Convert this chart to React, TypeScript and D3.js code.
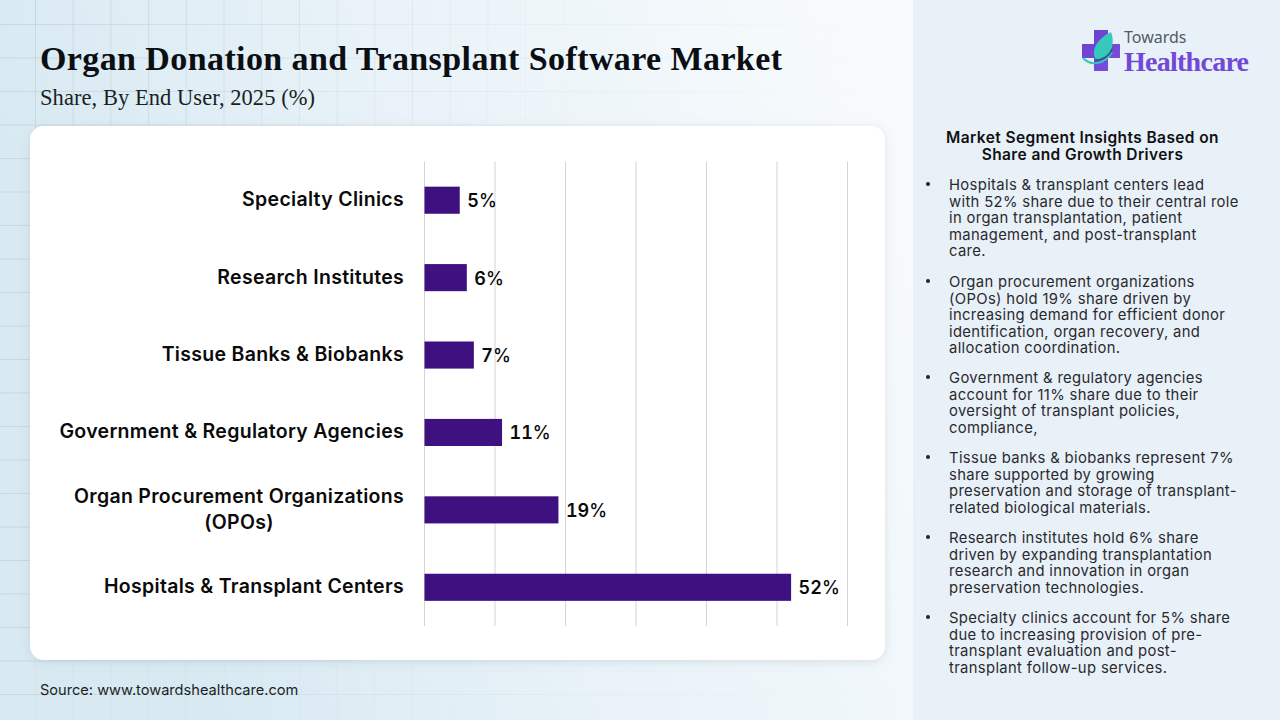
import React from "react";
import * as d3 from "d3";

const categories = ["Specialty Clinics", "Research Institutes", "Tissue Banks & Biobanks", "Government & Regulatory Agencies", "Organ Procurement Organizations (OPOs)", "Hospitals & Transplant Centers"];
const categoryLines = [["Specialty Clinics"], ["Research Institutes"], ["Tissue Banks & Biobanks"], ["Government & Regulatory Agencies"], ["Organ Procurement Organizations", "(OPOs)"], ["Hospitals & Transplant Centers"]];
const shares = [5, 6, 7, 11, 19, 52];
const xTicks = [0, 10, 20, 30, 40, 50, 60];
const insights = [
  ["Hospitals & transplant centers lead", "with 52% share due to their central role", "in organ transplantation, patient", "management, and post-transplant", "care."],
  ["Organ procurement organizations", "(OPOs) hold 19% share driven by", "increasing demand for efficient donor", "identification, organ recovery, and", "allocation coordination."],
  ["Government & regulatory agencies", "account for 11% share due to their", "oversight of transplant policies,", "compliance,"],
  ["Tissue banks & biobanks represent 7%", "share supported by growing", "preservation and storage of transplant-", "related biological materials."],
  ["Research institutes hold 6% share", "driven by expanding transplantation", "research and innovation in organ", "preservation technologies."],
  ["Specialty clinics account for 5% share", "due to increasing provision of pre-", "transplant evaluation and post-", "transplant follow-up services."],
];
const insightTops = [190, 287, 383, 463, 543, 623];
const bgX = d3.range(35, 900, 37.7);
const bgY = d3.range(24, 720, 33.5);

export default function App() {
  const x = d3.scaleLinear().domain([0, 60]).range([424.5, 847.5]);
  const y = d3.scaleBand().domain(categories).range([161.5, 626]).paddingInner(0.65).paddingOuter(0.325);
  const font = "Inter, 'Noto Sans', sans-serif";
  return (
    <svg width={1280} height={720} style={{ position: "absolute", left: 0, top: 0 }} fontFamily={font}>
      <defs>
        <linearGradient id="bg" x1="0" y1="0.2" x2="1" y2="0">
          <stop offset="0" stopColor="#d8e9f2" />
          <stop offset="0.3" stopColor="#e8f2f8" />
          <stop offset="0.65" stopColor="#f6fafc" />
          <stop offset="1" stopColor="#fdfefe" />
        </linearGradient>
        <linearGradient id="gridFade" x1="0" y1="0" x2="0" y2="1">
          <stop offset="0" stopColor="#bfd0da" stopOpacity="1" />
          <stop offset="1" stopColor="#bfd0da" stopOpacity="0.35" />
        </linearGradient>
        <linearGradient id="hFade" gradientUnits="userSpaceOnUse" x1="0" y1="0" x2="900" y2="0">
          <stop offset="0" stopColor="#bfd0da" stopOpacity="0.7" />
          <stop offset="0.5" stopColor="#bfd0da" stopOpacity="0.22" />
          <stop offset="1" stopColor="#bfd0da" stopOpacity="0.02" />
        </linearGradient>
        <linearGradient id="cross" x1="0" y1="0" x2="1" y2="1">
          <stop offset="0" stopColor="#6a3fd0" />
          <stop offset="1" stopColor="#7a4fdc" />
        </linearGradient>
        <filter id="cardShadow" x="-5%" y="-5%" width="110%" height="110%">
          <feDropShadow dx="0" dy="2" stdDeviation="5" floodColor="#7f95a5" floodOpacity="0.22" />
        </filter>
      </defs>
      <rect width={1280} height={720} fill="url(#bg)" />
      <g>
        {bgX.map((v) => <rect key={v} x={v} y={0} width={1} height={720} fill="url(#gridFade)" opacity={Math.max(0.03, 0.75 - v / 850)} />)}
        {bgY.map((v) => <rect key={v} x={0} y={v} width={900} height={1} fill="url(#hFade)" />)}
      </g>
      <rect x={913} y={0} width={367} height={720} fill="#e8f0f8" />

      <text x={40} y={70} fontFamily="'Liberation Serif', serif" fontWeight={700} fontSize={34} fill="#0b0f14" textLength={742} lengthAdjust="spacing">Organ Donation and Transplant Software Market</text>
      <text x={40} y={105} fontFamily="'Liberation Serif', serif" fontSize={22.5} fill="#1a1f24" textLength={275} lengthAdjust="spacing">Share, By End User, 2025 (%)</text>

      <rect x={30} y={126} width={855} height={534} rx={14} fill="#fff" filter="url(#cardShadow)" />

      {xTicks.map((t) => <line key={t} x1={x(t)} x2={x(t)} y1={161.5} y2={626} stroke="#d4d4d6" strokeWidth={1} />)}
      {categories.map((c, i) => {
        const cy = y(c)! + y.bandwidth() / 2;
        const multi = categoryLines[i].length > 1;
        return (
          <g key={c}>
            <rect x={x(0)} y={y(c)!} width={x(shares[i]) - x(0)} height={y.bandwidth()} fill="#3f1080" />
            <text x={x(shares[i]) + 7.5} y={cy + 7} fontSize={18} fontWeight={600} fill="#0a0a0a" style={{ fontVariantNumeric: "tabular-nums" }}>{shares[i]}<tspan fontWeight={500}>%</tspan></text>
            {categoryLines[i].map((l, j) => (
              <text key={l} x={multi ? 239 : 404} y={cy + 6 + (j - (categoryLines[i].length - 1) / 2) * 26} textAnchor={multi ? "middle" : "end"} fontSize={19.5} letterSpacing={0.3} fontWeight={600} fill="#0a0a0a">{l}</text>
            ))}
          </g>
        );
      })}

      <text x={40} y={695} fontSize={14.6} fill="#1a1f24">Source: www.towardshealthcare.com</text>

      <text x={1082.5} y={143} textAnchor="middle" fontSize={15.5} letterSpacing={0.4} fontWeight={600} fill="#111">Market Segment Insights Based on</text>
      <text x={1082.5} y={160} textAnchor="middle" fontSize={15.5} letterSpacing={0.4} fontWeight={600} fill="#111">Share and Growth Drivers</text>
      {insights.map((lines, i) => (
        <g key={i}>
          <circle cx={928} cy={insightTops[i] - 6} r={2} fill="#222" />
          {lines.map((l, j) => <text key={j} x={949} y={insightTops[i] + j * 16.6} fontSize={14.8} letterSpacing={0.35} fill="#2a2a2e">{l}</text>)}
        </g>
      ))}

      <g>
        <path d="M1094 30h14v14h12v14h-12v13h-14v-13h-12v-14h12z" fill="url(#cross)" />
        <path d="M1111 32C1116 45 1110 58 1096 60C1090 50 1098 38 1111 32z" fill="#35c8bd" />
        <path d="M1083 58C1090 66 1105 65 1112 52" fill="none" stroke="#35c8bd" strokeWidth={2} />
        <path d="M1095 60C1103 60 1110 56 1112 49" fill="none" stroke="#1c5d6c" strokeWidth={1.3} />
        <text x={1124} y={43} fontSize={16} fill="#555a66" fontFamily="'Noto Sans', sans-serif">Towards</text>
        <text x={1124} y={71} fontSize={28} fontWeight={700} fill="#7249d6" fontFamily="'Liberation Serif', serif" textLength={125} lengthAdjust="spacing">Healthcare</text>
      </g>
    </svg>
  );
}
